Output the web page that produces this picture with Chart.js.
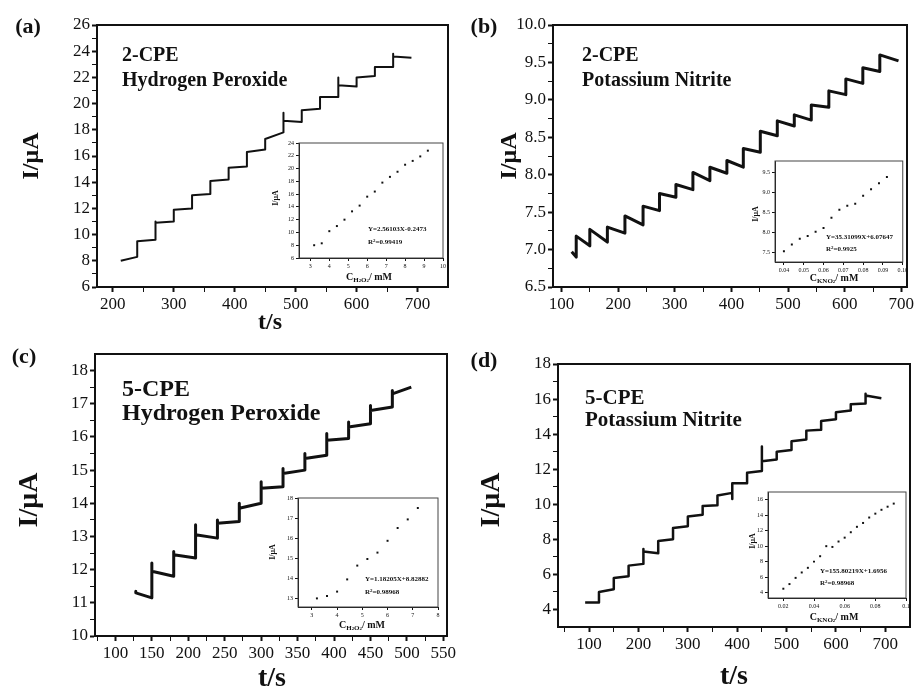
<!DOCTYPE html>
<html>
<head>
<meta charset="utf-8">
<script src="https://cdn.jsdelivr.net/npm/chart.js@4.4.1/dist/chart.umd.min.js"></script>
<style>
body{margin:0;background:#fff;width:919px;height:693px;position:relative;overflow:hidden;font-family:"Liberation Serif",serif;color:#111}
canvas{position:absolute}
.t{position:absolute;font-weight:bold;white-space:nowrap;line-height:1}
sub{font-size:70%;vertical-align:-0.25em;line-height:0}
sup{font-size:70%;vertical-align:0.45em;line-height:0}
</style>
</head>
<body>
<script>
// ---- (a) 2-CPE, hydrogen peroxide : step times (s), current at step start / end / spike (uA)
var tA     = [213,240,270,300,330,360,390,420,450,480,510,540,570,600,630,660,690];
var startA = [8.0,9.5,10.9,11.9,13.0,14.1,15.1,16.3,17.3,18.7,19.5,20.5,21.4,22.0,22.8,23.6];
var endA   = [8.3,9.6,11.0,12.0,13.1,14.2,15.2,16.5,17.8,18.6,19.6,20.5,21.3,22.1,22.8,23.5];
var spikeA = [8.0,9.5,11.0,11.9,13.0,14.1,15.1,16.3,17.3,19.3,19.5,20.5,22.0,22.0,22.8,23.8];

// ---- (b) 2-CPE, potassium nitrite
var tB     = [118,126,150,181,212,244,273,302,332,362,392,421,451,481,511,541,572,602,632,662,695];
var startB = [6.97,7.18,7.27,7.30,7.45,7.58,7.75,7.87,8.03,8.10,8.19,8.35,8.58,8.72,8.80,8.93,9.12,9.28,9.43,9.60];
var endB   = [6.90,7.05,7.10,7.22,7.33,7.52,7.70,7.80,7.92,8.02,8.10,8.30,8.52,8.65,8.73,8.90,9.07,9.22,9.38,9.52];

// ---- (c) 5-CPE, hydrogen peroxide
var tC     = [128,150,180,210,240,270,300,330,360,390,420,450,480,506];
var startC = [11.3,11.95,12.45,13.05,13.4,13.85,14.45,14.9,15.35,15.9,16.3,16.8,17.3];
var endC   = [11.15,11.8,12.35,12.95,13.45,14.0,14.5,15.0,15.45,15.95,16.4,16.9,17.5];
var spikeC = [11.35,12.2,12.55,13.35,13.5,14.0,14.65,15.05,15.5,16.1,16.45,16.95,17.4];

// ---- (d) 5-CPE, potassium nitrite
var tD     = [92,120,150,180,210,240,270,300,330,360,390,420,450,480,510,540,570,600,630,660,692];
var startD = [4.4,5.0,5.8,6.5,7.3,7.9,8.65,9.3,9.9,10.5,11.2,11.8,12.45,13.0,13.6,14.2,14.75,15.25,15.7,16.2];
var endD   = [4.4,5.15,5.9,6.6,7.2,8.0,8.75,9.4,9.95,10.65,11.2,11.9,12.55,13.1,13.7,14.25,14.85,15.35,15.75,16.05];
var spikeD = [4.4,5.0,5.8,6.5,7.45,7.9,8.65,9.3,9.9,10.5,10.3,11.8,13.3,13.0,13.6,14.2,14.75,15.25,15.7,16.3];

// ---- calibration insets: concentration (mM) vs current (uA)
var cA = [3.2,3.6,4.0,4.4,4.8,5.2,5.6,6.0,6.4,6.8,7.2,7.6,8.0,8.4,8.8,9.2];
var iA = [8.0,8.3,10.2,11.0,12.0,13.3,14.2,15.6,16.4,17.8,18.7,19.5,20.6,21.2,21.9,22.8];
var cB = [0.040,0.044,0.048,0.052,0.056,0.060,0.064,0.068,0.072,0.076,0.080,0.084,0.088,0.092];
var iB = [7.52,7.69,7.83,7.90,8.01,8.10,8.36,8.56,8.66,8.71,8.91,9.07,9.22,9.38];
var cC = [3.2,3.6,4.0,4.4,4.8,5.2,5.6,6.0,6.4,6.8,7.2];
var iC = [12.98,13.1,13.32,13.93,14.62,14.95,15.27,15.86,16.5,16.93,17.5];
var cD = [0.020,0.024,0.028,0.032,0.036,0.040,0.044,0.048,0.052,0.056,0.060,0.064,0.068,0.072,0.076,0.080,0.084,0.088,0.092];
var iD = [4.5,5.1,5.9,6.6,7.2,8.0,8.7,10.0,9.9,10.6,11.1,11.8,12.5,13.0,13.7,14.2,14.7,15.1,15.5];

// ---- tick labels
var ticksAx = [200,300,400,500,600,700], ticksAy = [6,8,10,12,14,16,18,20,22,24,26];
var ticksBx = [100,200,300,400,500,600,700], ticksBy = [6.5,7,7.5,8,8.5,9,9.5,10];
var ticksCx = [100,150,200,250,300,350,400,450,500,550], ticksCy = [10,11,12,13,14,15,16,17,18];
var ticksDx = [100,200,300,400,500,600,700], ticksDy = [4,6,8,10,12,14,16,18];
var ticksIAx = [3,4,5,6,7,8,9,10], ticksIAy = [6,8,10,12,14,16,18,20,22,24];
var ticksIBx = [0.04,0.05,0.06,0.07,0.08,0.09,0.10], ticksIBy = [7.5,8,8.5,9,9.5];
var ticksICx = [3,4,5,6,7,8], ticksICy = [13,14,15,16,17,18];
var ticksIDx = [0.02,0.04,0.06,0.08,0.1], ticksIDy = [4,6,8,10,12,14,16];

var frame = {
  id: 'frame',
  afterDraw: function(c, args, o) {
    var a = c.chartArea, x = c.ctx;
    x.save();
    x.strokeStyle = o.color; x.lineWidth = o.w;
    x.strokeRect(a.left, a.top, a.right - a.left, a.bottom - a.top);
    x.restore();
  }
};

function steps(t, start, end, spike) {
  var pts = [];
  for (var i = 0; i < start.length; i++) {
    if (spike) pts.push({x: t[i], y: spike[i]});
    pts.push({x: t[i], y: start[i]});
    pts.push({x: t[i + 1], y: end[i]});
  }
  return pts;
}
function pairs(xs, ys) {
  return xs.map(function(v, i){ return {x: v, y: ys[i]}; });
}

// major ticks from the arrays, plus unlabelled minor ticks half way (main plots only)
function axis(range, ticks, fmt, size, fs, tl, bw, minor) {
  var show = fmt || String;
  return {
    type: 'linear', min: range[0], max: range[1],
    afterBuildTicks: function(s){
      var out = ticks.map(function(v){ return {value: v, txt: show(v)}; });
      if (minor) {
        var d = ticks[1] - ticks[0];
        var m = [ticks[0] - d / 2].concat(ticks.map(function(v){ return v + d / 2; }));
        m.forEach(function(v){ if (v > range[0] && v < range[1]) out.push({value: v, txt: '', minor: true}); });
        out.sort(function(p, q){ return p.value - q.value; });
      }
      s.ticks = out;
    },
    afterTickToLabelConversion: function(s){
      s.ticks.forEach(function(t){ if (t.txt !== undefined) t.label = t.txt; });
    },
    afterFit: function(s){ if (s.isHorizontal()) s.height = size; else s.width = size; },
    grid: {drawOnChartArea: false, drawTicks: true, tickLength: tl, color: '#111',
           tickWidth: function(ctx){ return ctx.tick && ctx.tick.minor ? 1 : bw; }},
    border: {color: '#111', width: bw},
    ticks: {autoSkip: false, maxRotation: 0, padding: 2, color: '#111',
            font: {family: 'Liberation Serif', size: fs}}
  };
}

// cv: canvas box [left, top, w, h]; ar: plot area [left, top, right, bottom] in page px
function plot(cv, ar, xr, yr, xt, yt, pts, o) {
  var c = document.createElement('canvas');
  c.width = cv[2]; c.height = cv[3];
  c.style.left = cv[0] + 'px'; c.style.top = cv[1] + 'px';
  document.body.appendChild(c);
  var inset = o.inset;
  var ds = inset
    ? {data: pts, showLine: false, pointStyle: 'rect', pointRadius: 1.4, backgroundColor: '#111', borderWidth: 0}
    : {data: pts, showLine: true, borderColor: '#111', borderWidth: o.lw, borderJoinStyle: 'round', pointRadius: 0, tension: 0};
  new Chart(c, {
    type: 'scatter',
    data: {datasets: [ds]},
    options: {
      responsive: false, animation: false, events: [],
      layout: {padding: {left: 0, bottom: 0, top: ar[1] - cv[1], right: cv[0] + cv[2] - ar[2]}},
      plugins: {legend: {display: false}, tooltip: {enabled: false},
                frame: {w: inset ? 1 : 2, color: inset ? '#444' : '#111'}},
      scales: {
        x: axis(xr, xt, o.fx, cv[1] + cv[3] - ar[3], inset ? 6 : 17, inset ? 3 : 5, inset ? 1 : 2, !inset),
        y: axis(yr, yt, o.fy, ar[0] - cv[0], inset ? 6 : 17, inset ? 3 : 5, inset ? 1 : 2, !inset)
      }
    },
    plugins: [frame]
  });
}

function txt(html, x, y, size, o) {
  o = o || {};
  var d = document.createElement('div');
  d.className = 't';
  d.innerHTML = html;
  d.style.fontSize = size + 'px';
  d.style.left = x + 'px';
  if (o.center) {
    d.style.top = y + 'px';
    d.style.transform = 'translate(-50%,-50%)' + (o.rot ? ' rotate(-90deg)' : '');
  } else {
    d.style.top = (y - 0.8375 * size) + 'px';  // y is the baseline
  }
  document.body.appendChild(d);
}

var f1 = function(v){ return v.toFixed(1); };
var f2 = function(v){ return v.toFixed(2); };

// main panels
plot([0, 0, 460, 330], [97, 25, 448, 287], [174, 750], [6, 26], ticksAx, ticksAy, steps(tA, startA, endA, spikeA), {lw: 2});
plot([460, 0, 459, 330], [553, 25, 907, 287], [85, 710], [6.5, 10], ticksBx, ticksBy, steps(tB, startB, endB), {lw: 3, fy: f1});
plot([0, 330, 460, 363], [95, 354, 447, 636], [72, 555], [10, 18.5], ticksCx, ticksCy, steps(tC, startC, endC, spikeC), {lw: 3});
plot([460, 330, 459, 363], [558, 364, 910, 627], [37, 750], [3, 18], ticksDx, ticksDy, steps(tD, startD, endD, spikeD), {lw: 2.5});

// insets
plot([278, 136, 172, 138], [299, 143, 443, 258], [2.4, 10], [6, 24], ticksIAx, ticksIAy, pairs(cA, iA), {inset: true});
plot([754, 154, 156, 122], [775, 161, 903, 262], [0.0355, 0.10], [7.25, 9.78], ticksIBx, ticksIBy, pairs(cB, iB), {inset: true, fx: f2, fy: f1});
plot([277, 491, 168, 132], [298, 498, 438, 607], [2.45, 8], [12.55, 18], ticksICx, ticksICy, pairs(cC, iC), {inset: true});
plot([747, 485, 166, 129], [768, 492, 906, 598], [0.01, 0.1], [3.3, 17], ticksIDx, ticksIDy, pairs(cD, iD), {inset: true});

// panel letters
txt('(a)', 28, 26, 22, {center: true});
txt('(b)', 484, 26, 22, {center: true});
txt('(c)', 24, 356, 22, {center: true});
txt('(d)', 484, 360, 22, {center: true});

// annotations
txt('2-CPE', 122, 61, 20);
txt('Hydrogen Peroxide', 122, 86, 20);
txt('2-CPE', 582, 61, 20);
txt('Potassium Nitrite', 582, 86, 20);
txt('5-CPE', 122, 396, 24);
txt('Hydrogen Peroxide', 122, 420, 24);
txt('5-CPE', 585, 405, 21);
txt('Potassium Nitrite', 585, 427, 21);

// main axis titles
txt('t/s', 270, 321, 24, {center: true});
txt('I/μA', 30, 156, 24, {center: true, rot: true});
txt('I/μA', 508, 156, 24, {center: true, rot: true});
txt('t/s', 272, 677, 28, {center: true});
txt('I/μA', 28, 500, 28, {center: true, rot: true});
txt('t/s', 734, 675, 28, {center: true});
txt('I/μA', 490, 500, 28, {center: true, rot: true});

// inset titles and fits
var h2o2 = 'C<sub>H<span style="font-size:70%">2</span>O<span style="font-size:70%">2</span></sub>/ mM';
var kno2 = 'C<sub>KNO<span style="font-size:70%">2</span></sub>/ mM';
txt('I/μA', 276, 198, 8, {center: true, rot: true});
txt(h2o2, 369, 277, 10, {center: true});
txt('Y=2.56103X-0.2473', 368, 232, 7);
txt('R<sup>2</sup>=0.99419', 368, 245, 7);

txt('I/μA', 756, 214, 8, {center: true, rot: true});
txt(kno2, 834, 278, 10, {center: true});
txt('Y=35.31099X+6.07647', 826, 240, 7);
txt('R<sup>2</sup>=0.9925', 826, 252, 7);

txt('I/μA', 273, 552, 8, {center: true, rot: true});
txt(h2o2, 362, 625, 10, {center: true});
txt('Y=1.18205X+8.82882', 365, 582, 7);
txt('R<sup>2</sup>=0.98968', 365, 595, 7);

txt('I/μA', 753, 541, 8, {center: true, rot: true});
txt(kno2, 834, 617, 10, {center: true});
txt('Y=155.80219X+1.6956', 820, 574, 7);
txt('R<sup>2</sup>=0.98968', 820, 586, 7);
</script>
</body>
</html>
